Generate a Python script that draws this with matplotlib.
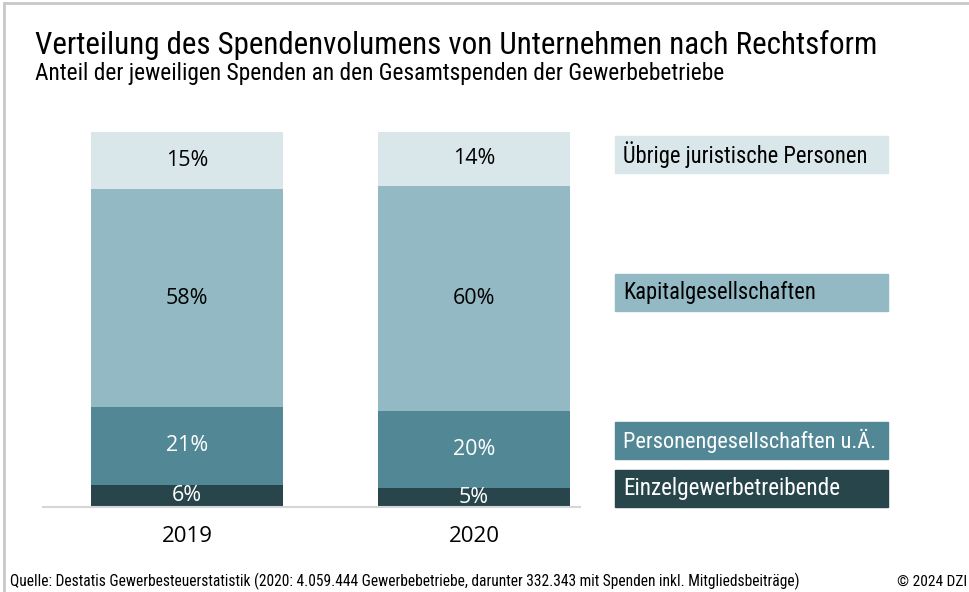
import matplotlib
matplotlib.use("Agg")
import matplotlib.pyplot as plt
from matplotlib.patches import Rectangle
from matplotlib.lines import Line2D
import logging

logging.getLogger("matplotlib.font_manager").setLevel(logging.ERROR)

# ---- data -------------------------------------------------------------
years = ["2019", "2020"]
categories = [
    "Einzelgewerbetreibende",
    "Personengesellschaften u.Ä.",
    "Kapitalgesellschaften",
    "Übrige juristische Personen",
]
einzel = [6.0, 5.1]
personen = [20.6, 20.4]
kapital = [58.2, 60.2]
uebrige = [15.2, 14.3]
series = [einzel, personen, kapital, uebrige]

colors = ["#28454b", "#528896", "#93bac4", "#d9e7eb"]
text_colors = ["white", "white", "black", "black"]

W, H = 970, 592
NARROW = ["Roboto Condensed", "Liberation Sans Narrow", "Roboto", "DejaVu Sans"]
BODY = ["Open Sans", "DejaVu Sans"]


def fx(px):
    return px / W


def fy(py):
    return 1 - py / H


fig = plt.figure(figsize=(W / 100, H / 100), dpi=100)
to_fit = []  # (text artist, target width in px)

# axes: x 43..580 px, y 132..507 px
ax = fig.add_axes([fx(43), fy(507), fx(580) - fx(43), (507 - 132) / H])
xs = list(range(len(years)))
bottom = [0.0] * len(years)
for vals, col, tcol in zip(series, colors, text_colors):
    ax.bar(xs, vals, bottom=bottom, width=0.669, color=col, edgecolor="none")
    for x, v, b in zip(xs, vals, bottom):
        ax.text(x, b + v / 2, f"{v:.0f}%", ha="center", va="center",
                fontsize=15.5, color=tcol, family=BODY)
    bottom = [b + v for b, v in zip(bottom, vals)]

ax.set_xlim(-0.502, 1.369)
ax.set_ylim(0, 100)
ax.set_yticks([])
ax.set_xticks(xs)
ax.set_xticklabels(years, fontsize=16, family=BODY)
ax.tick_params(axis="x", length=0, pad=14)
for s in ["top", "right", "left"]:
    ax.spines[s].set_visible(False)
ax.spines["bottom"].set_color("#d6d6d6")
ax.spines["bottom"].set_linewidth(1.5)

# legend boxes at the right
legend_rows = {  # top y px of each box, text width px
    "Übrige juristische Personen": (136, 245),
    "Kapitalgesellschaften": (274, 193),
    "Personengesellschaften u.Ä.": (422, 254),
    "Einzelgewerbetreibende": (470, 217),
}
for cat, col, tcol in zip(categories, colors, text_colors):
    top, tw = legend_rows[cat]
    fig.patches.append(Rectangle((fx(615), fy(top + 37)), fx(888) - fx(615), 37 / H,
                                 transform=fig.transFigure, color=col, zorder=1))
    t = fig.text(fx(623), fy(top + 18.5), cat, ha="left", va="center",
                 fontsize=15.5, color=tcol, family=NARROW, zorder=2)
    to_fit.append((t, tw))

# titles and footer
t = fig.text(fx(35), fy(54), "Verteilung des Spendenvolumens von Unternehmen nach Rechtsform",
             fontsize=24, family=NARROW, ha="left", va="baseline", color="black")
to_fit.append((t, 843))
t = fig.text(fx(35), fy(80), "Anteil der jeweiligen Spenden an den Gesamtspenden der Gewerbebetriebe",
             fontsize=16.5, family=NARROW, ha="left", va="baseline", color="black")
to_fit.append((t, 687))
t = fig.text(fx(10), fy(586),
             "Quelle: Destatis Gewerbesteuerstatistik (2020: 4.059.444 Gewerbebetriebe, "
             "darunter 332.343 mit Spenden inkl. Mitgliedsbeiträge)",
             fontsize=12, family=NARROW, ha="left", va="baseline")
to_fit.append((t, 790))
t = fig.text(fx(967), fy(586), "© 2024 DZI", fontsize=12, family=NARROW,
             ha="right", va="baseline")
to_fit.append((t, 70))

# shrink/grow texts so they span the same width as in the original
for _ in range(2):
    fig.canvas.draw()
    r = fig.canvas.get_renderer()
    for t, tw in to_fit:
        w = t.get_window_extent(r).width
        t.set_fontsize(t.get_fontsize() * tw / w)

# frame lines (top and left)
fig.add_artist(Line2D([fx(4), 1], [fy(3), fy(3)], color="#c8c8c8", lw=2))
fig.add_artist(Line2D([fx(4), fx(4)], [fy(3), 0], color="#c8c8c8", lw=2))

fig.savefig("out.png", dpi=100)
